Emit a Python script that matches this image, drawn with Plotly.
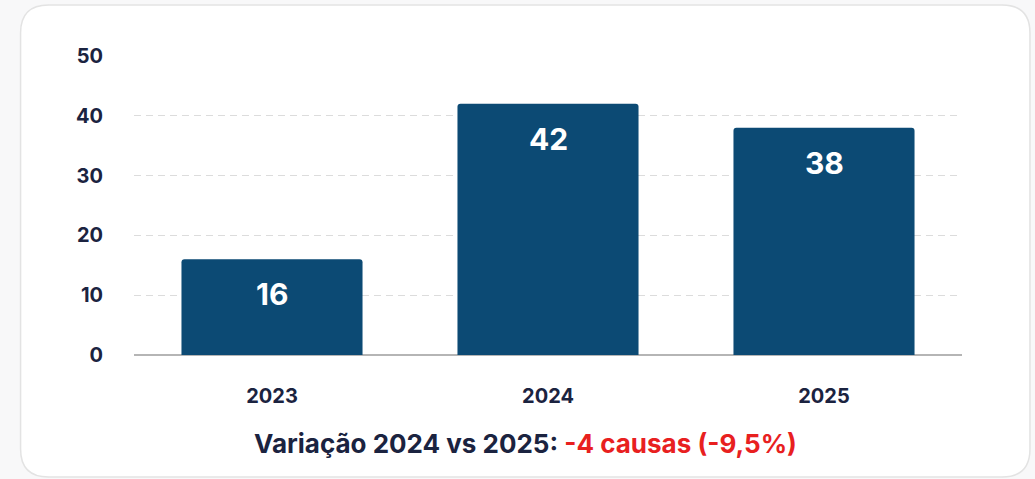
import plotly.graph_objects as go

years = ["2023", "2024", "2025"]
values = [16, 42, 38]
y_ticks = [0, 10, 20, 30, 40, 50]
summary_prefix = "Variação 2024 vs 2025: "
summary_delta = "-4 causas (-9,5%)"

W, H = 1035, 479
L, R, T, B = 133.5, 73, 56, 124
pw, ph = W - L - R, H - T - B

def px_to_paper(x, y):
    return (x - L) / pw, (H - B - y) / ph

NAVY = "#1b2340"
BAR = "#0c4a74"
RED = "#e8201f"
FONT = "Inter"

fig = go.Figure()
fig.add_trace(go.Bar(x=years, y=values, marker=dict(color=BAR, line=dict(width=0), cornerradius=3),
                     width=0.656, hoverinfo="skip"))

for i, v in enumerate(values):
    fig.add_annotation(x=i, y=v, xref="x", yref="y", text=f"<b>{v}</b>",
                       showarrow=False, yanchor="middle", yshift=-35,
                       font=dict(family=FONT, size=30, color="white"))

# rounded card
x0, y0 = px_to_paper(20, 477)
x1, y1 = px_to_paper(1030, 5)
rx, ry = 28 / pw, 28 / ph
path = (f"M {x0+rx},{y0} L {x1-rx},{y0} Q {x1},{y0} {x1},{y0+ry} "
        f"L {x1},{y1-ry} Q {x1},{y1} {x1-rx},{y1} L {x0+rx},{y1} "
        f"Q {x0},{y1} {x0},{y1-ry} L {x0},{y0+ry} Q {x0},{y0} {x0+rx},{y0} Z")
fig.add_shape(type="path", path=path, xref="paper", yref="paper",
              fillcolor="white", line=dict(color="#e3e3e3", width=1.5), layer="below")

sx, sy = px_to_paper(525, 443)
fig.add_annotation(x=sx, y=sy, xref="paper", yref="paper", showarrow=False,
                   xanchor="center", yanchor="middle",
                   text=f"<b><span style='color:{NAVY}'>{summary_prefix}</span>"
                        f"<span style='color:{RED}'>{summary_delta}</span></b>",
                   font=dict(family=FONT, size=26, color=NAVY))

fig.update_layout(
    width=W, height=H,
    margin=dict(l=L, r=R, t=T, b=B, pad=0),
    paper_bgcolor="#f8f8f9", plot_bgcolor="rgba(0,0,0,0)",
    showlegend=False, bargap=0.344,
    font=dict(family=FONT, color=NAVY),
    xaxis=dict(type="category", range=[-0.5, 2.5], showgrid=False, showline=False,
               zeroline=False, ticks="",
               tickfont=dict(family=FONT, size=20, color=NAVY, weight="bold"),
               ticklabelstandoff=27, fixedrange=True),
    yaxis=dict(range=[0, 50], tickvals=y_ticks, showgrid=True,
               gridcolor="#dcdcdc", griddash="7px,5px", gridwidth=1,
               zeroline=True, zerolinecolor="#b5b5b5", zerolinewidth=1.5,
               showline=False, ticks="",
               tickfont=dict(family=FONT, size=20, color=NAVY, weight="bold"),
               ticklabelstandoff=30, fixedrange=True),
)

fig.write_html("out.html", config={"displayModeBar": False},
               post_script="document.body.style.margin='0';document.body.style.background='#f8f8f9';")
